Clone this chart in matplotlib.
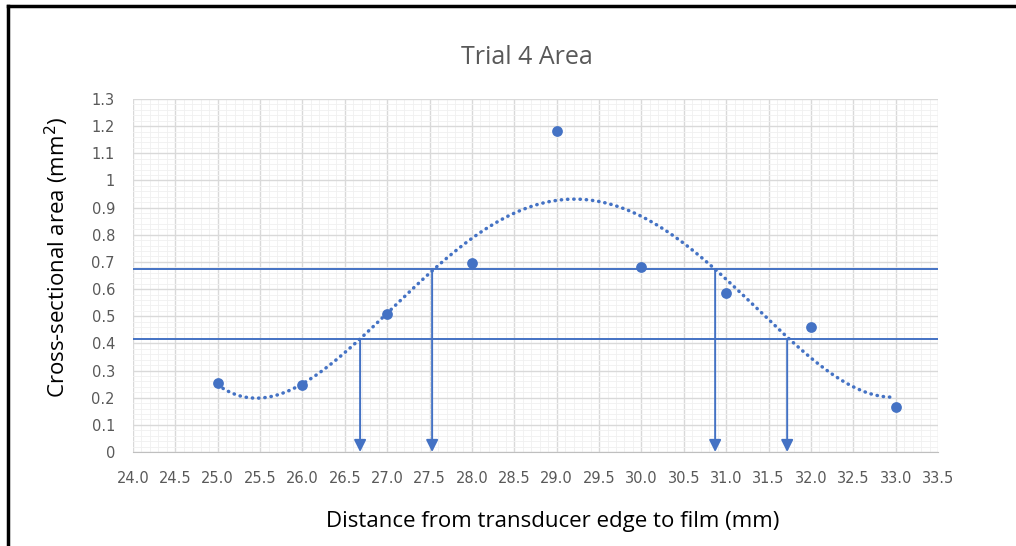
import numpy as np
import matplotlib.pyplot as plt
from matplotlib.ticker import MultipleLocator, FuncFormatter
from matplotlib.lines import Line2D

# Measured cross-sectional area at each film distance
distance = [25, 26, 27, 28, 29, 30, 31, 32, 33]
area = [0.254, 0.245, 0.507, 0.695, 1.182, 0.680, 0.587, 0.460, 0.166]

# Threshold levels and where the trend crosses them
levels = [0.674, 0.416]
crossings = [26.68, 27.53, 30.87, 31.72]
crossing_levels = [0.416, 0.674, 0.674, 0.416]

blue = '#4472C4'
grey_text = '#595959'

fig = plt.figure(figsize=(10.16, 5.46), dpi=100)
ax = fig.add_axes([133 / 1016, 1 - 452 / 546, 805 / 1016, 353 / 546])
ax.set_xlim(24, 33.5)
ax.set_ylim(0, 1.3)

# Gridlines
ax.xaxis.set_major_locator(MultipleLocator(0.5))
ax.xaxis.set_minor_locator(MultipleLocator(0.1))
ax.yaxis.set_major_locator(MultipleLocator(0.1))
ax.yaxis.set_minor_locator(MultipleLocator(0.02))
ax.grid(which='major', color='#D9D9D9', lw=1.0)
ax.grid(which='minor', color='#F0F0F0', lw=0.6)
ax.set_axisbelow(True)

for side in ['top', 'right', 'left']:
    ax.spines[side].set_visible(False)
ax.spines['bottom'].set_color('#BFBFBF')
ax.tick_params(which='both', length=0, colors=grey_text, labelsize=10.5)
ax.tick_params(axis='x', pad=14)
ax.tick_params(axis='y', pad=13)
ax.xaxis.set_major_formatter(FuncFormatter(lambda v, _: f'{v:.1f}'))
ax.yaxis.set_major_formatter(FuncFormatter(lambda v, _: f'{round(v, 1):g}'))

# Polynomial (order 4) trendline
coef = np.polyfit(distance, area, 4)
xs = np.linspace(25, 33, 300)
ax.plot(xs, np.polyval(coef, xs), color=blue, lw=2.5,
        linestyle=(0, (0.1, 1.7)), dash_capstyle='round', zorder=3)

ax.scatter(distance, area, color=blue, s=60, zorder=5, linewidths=0)

# Threshold lines and drop arrows
for lv in levels:
    ax.axhline(lv, color=blue, lw=1.4, zorder=4)
for xc, lv in zip(crossings, crossing_levels):
    ax.annotate('', xy=(xc, 0), xytext=(xc, lv),
                arrowprops=dict(arrowstyle='-|>', color=blue, lw=1.4,
                                mutation_scale=18, shrinkA=0, shrinkB=0),
                zorder=4)

fig.text(527 / 1016, 1 - 57 / 546, 'Trial 4 Area', ha='center', va='center',
         fontsize=18, color=grey_text, family='Open Sans')
fig.text(553 / 1016, 1 - 521 / 546, 'Distance from transducer edge to film (mm)',
         ha='center', va='center', fontsize=16, color='black', family='Open Sans')
fig.text(57 / 1016, 1 - 257 / 546, 'Cross-sectional area (mm$^2$)', rotation=90,
         ha='center', va='center', fontsize=16, color='black', family='Open Sans')

# Outer frame (top and left edges)
fig.add_artist(Line2D([8 / 1016, 8 / 1016], [0, 1 - 6 / 546], color='black', lw=2.5))
fig.add_artist(Line2D([8 / 1016, 1], [1 - 6 / 546, 1 - 6 / 546], color='black', lw=2.5))

fig.savefig('out.png')
